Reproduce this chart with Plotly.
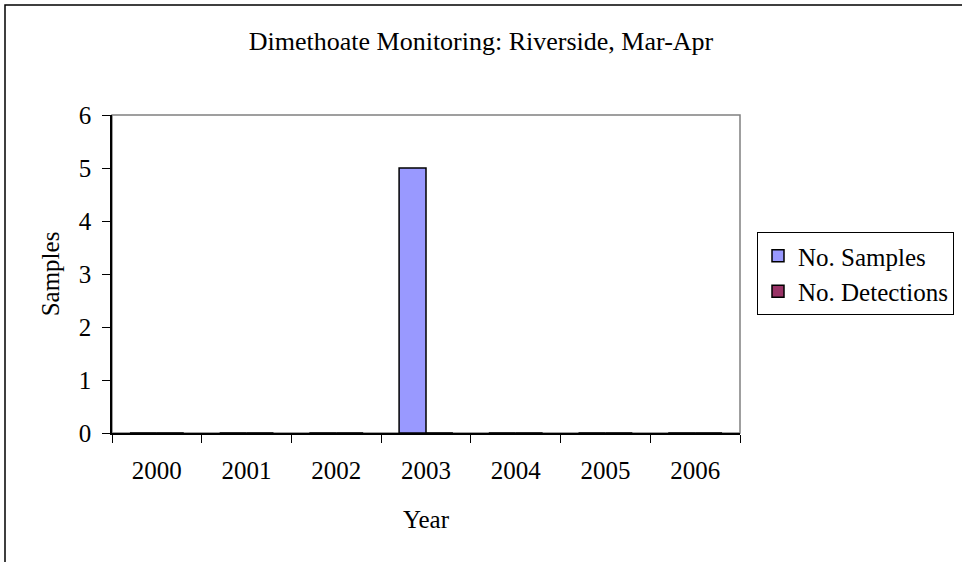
import plotly.graph_objects as go

years = ["2000", "2001", "2002", "2003", "2004", "2005", "2006"]
samples = [0, 0, 0, 5, 0, 0, 0]
detections = [0, 0, 0, 0, 0, 0, 0]
series_names = ["No. Samples", "No. Detections"]
title_text = "Dimethoate Monitoring: Riverside, Mar-Apr"
y_ticks = [0, 1, 2, 3, 4, 5, 6]

W, H = 962, 562
L, R, T, B = 112, 740, 115, 433  # plot area in pixels
FONT = "Liberation Serif, Times New Roman, serif"


def px_x(p):
    return (p - L) / (R - L)


def px_y(p):
    return (B - p) / (B - T)


fig = go.Figure()
fig.add_trace(go.Bar(x=years, y=samples, name=series_names[0],
                     marker=dict(color="#9999FF", line=dict(color="black", width=1.5))))
fig.add_trace(go.Bar(x=years, y=detections, name=series_names[1],
                     marker=dict(color="#993366", line=dict(color="black", width=1.5))))

fig.update_layout(
    width=W, height=H,
    margin=dict(l=L, r=W - R, t=T, b=H - B, pad=0, autoexpand=False),
    paper_bgcolor="white", plot_bgcolor="white",
    font=dict(family=FONT, size=25, color="black"),
    barmode="group", bargap=0.4, bargroupgap=0,
    title=dict(text=title_text, x=0.5, xref="container", xanchor="center",
               y=1 - 41 / H, yref="container", yanchor="middle",
               font=dict(family=FONT, size=26, color="black")),
    showlegend=True,
    legend=dict(xref="container", yref="container", x=757 / W, y=1 - 232 / H,
                xanchor="left", yanchor="top",
                bordercolor="black", borderwidth=1, bgcolor="white",
                font=dict(family=FONT, size=25, color="black"),
                itemwidth=30, tracegroupgap=0),
    xaxis=dict(type="category", categoryorder="array", categoryarray=years,
               showgrid=False, zeroline=False, showline=True, linecolor="black", linewidth=1.5,
               ticks="outside", tickson="boundaries", ticklen=8, tickcolor="black", tickwidth=1,
               ticklabelstandoff=14, layer="above traces",
               title=dict(text="Year", standoff=28, font=dict(family=FONT, size=25))),
    yaxis=dict(range=[0, 6], tickvals=y_ticks, showgrid=False, zeroline=False,
               showline=True, linecolor="black", linewidth=1.5,
               ticks="outside", ticklen=8, tickcolor="black", tickwidth=1,
               ticklabelstandoff=6,
               title=dict(text="Samples", standoff=12, font=dict(family=FONT, size=25))),
    shapes=[
        dict(type="rect", xref="paper", yref="paper", x0=0, x1=1, y0=0, y1=1,
             line=dict(color="#808080", width=1.5), fillcolor="rgba(0,0,0,0)", layer="below"),
        dict(type="rect", xref="paper", yref="paper",
             x0=px_x(5), x1=px_x(968), y0=px_y(568), y1=px_y(5),
             line=dict(color="black", width=1.5), fillcolor="rgba(0,0,0,0)", layer="above"),
    ],
)

fig.write_html("out.html", config={"displayModeBar": False},
               post_script="document.body.style.margin='0';document.body.style.overflow='hidden';")
